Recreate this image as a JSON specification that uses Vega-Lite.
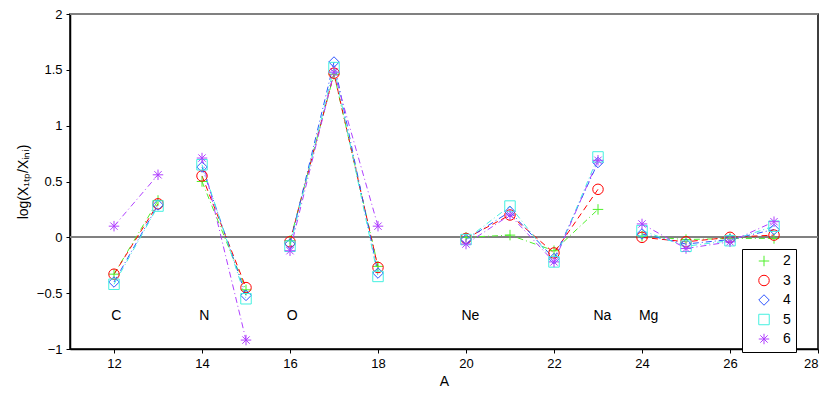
{
  "$schema": "https://vega.github.io/schema/vega-lite/v6.json",
  "width": 748,
  "height": 335,
  "autosize": "none",
  "padding": {"left": 70, "top": 14, "right": 12, "bottom": 44},
  "background": "white",
  "config": {
    "view": {"stroke": null},
    "font": "Liberation Sans",
    "axis": {
      "labelFont": "Liberation Sans", "labelFontSize": 13, "labelColor": "black",
      "titleFont": "Liberation Sans", "titleFontSize": 14, "titleFontWeight": "normal", "titleColor": "black",
      "domain": true, "ticks": true,
      "domainColor": "black", "domainWidth": 1.5, "tickColor": "black", "tickWidth": 1, "tickSize": 4, "labelPadding": 4, "grid": false
    },
    "legend": {
      "labelFont": "Liberation Sans", "labelFontSize": 14, "labelColor": "black"
    }
  },
  "datasets": {
    "main": [
      {"A": 12, "s": "2", "v": -0.33, "g": 1}, {"A": 13, "s": "2", "v": 0.33, "g": 1},
      {"A": 14, "s": "2", "v": 0.50, "g": 2}, {"A": 15, "s": "2", "v": -0.47, "g": 2},
      {"A": 16, "s": "2", "v": -0.03, "g": 3}, {"A": 17, "s": "2", "v": 1.46, "g": 3}, {"A": 18, "s": "2", "v": -0.26, "g": 3},
      {"A": 20, "s": "2", "v": 0.0, "g": 4}, {"A": 21, "s": "2", "v": 0.02, "g": 4}, {"A": 22, "s": "2", "v": -0.12, "g": 4}, {"A": 23, "s": "2", "v": 0.25, "g": 4},
      {"A": 24, "s": "2", "v": 0.01, "g": 5}, {"A": 25, "s": "2", "v": -0.02, "g": 5}, {"A": 26, "s": "2", "v": -0.01, "g": 5}, {"A": 27, "s": "2", "v": -0.01, "g": 5},

      {"A": 12, "s": "3", "v": -0.33, "g": 1}, {"A": 13, "s": "3", "v": 0.30, "g": 1},
      {"A": 14, "s": "3", "v": 0.55, "g": 2}, {"A": 15, "s": "3", "v": -0.45, "g": 2},
      {"A": 16, "s": "3", "v": -0.04, "g": 3}, {"A": 17, "s": "3", "v": 1.47, "g": 3}, {"A": 18, "s": "3", "v": -0.27, "g": 3},
      {"A": 20, "s": "3", "v": -0.01, "g": 4}, {"A": 21, "s": "3", "v": 0.20, "g": 4}, {"A": 22, "s": "3", "v": -0.14, "g": 4}, {"A": 23, "s": "3", "v": 0.43, "g": 4},
      {"A": 24, "s": "3", "v": 0.00, "g": 5}, {"A": 25, "s": "3", "v": -0.04, "g": 5}, {"A": 26, "s": "3", "v": 0.00, "g": 5}, {"A": 27, "s": "3", "v": 0.02, "g": 5},

      {"A": 12, "s": "4", "v": -0.40, "g": 1}, {"A": 13, "s": "4", "v": 0.29, "g": 1},
      {"A": 14, "s": "4", "v": 0.63, "g": 2}, {"A": 15, "s": "4", "v": -0.52, "g": 2},
      {"A": 16, "s": "4", "v": -0.06, "g": 3}, {"A": 17, "s": "4", "v": 1.57, "g": 3}, {"A": 18, "s": "4", "v": -0.32, "g": 3},
      {"A": 20, "s": "4", "v": -0.02, "g": 4}, {"A": 21, "s": "4", "v": 0.23, "g": 4}, {"A": 22, "s": "4", "v": -0.19, "g": 4}, {"A": 23, "s": "4", "v": 0.67, "g": 4},
      {"A": 24, "s": "4", "v": 0.03, "g": 5}, {"A": 25, "s": "4", "v": -0.06, "g": 5}, {"A": 26, "s": "4", "v": -0.02, "g": 5}, {"A": 27, "s": "4", "v": 0.07, "g": 5},

      {"A": 12, "s": "5", "v": -0.42, "g": 1}, {"A": 13, "s": "5", "v": 0.28, "g": 1},
      {"A": 14, "s": "5", "v": 0.65, "g": 2}, {"A": 15, "s": "5", "v": -0.55, "g": 2},
      {"A": 16, "s": "5", "v": -0.08, "g": 3}, {"A": 17, "s": "5", "v": 1.52, "g": 3}, {"A": 18, "s": "5", "v": -0.35, "g": 3},
      {"A": 20, "s": "5", "v": -0.02, "g": 4}, {"A": 21, "s": "5", "v": 0.28, "g": 4}, {"A": 22, "s": "5", "v": -0.22, "g": 4}, {"A": 23, "s": "5", "v": 0.72, "g": 4},
      {"A": 24, "s": "5", "v": 0.06, "g": 5}, {"A": 25, "s": "5", "v": -0.08, "g": 5}, {"A": 26, "s": "5", "v": -0.03, "g": 5}, {"A": 27, "s": "5", "v": 0.10, "g": 5},

      {"A": 12, "s": "6", "v": 0.10, "g": 1}, {"A": 13, "s": "6", "v": 0.56, "g": 1},
      {"A": 14, "s": "6", "v": 0.71, "g": 2}, {"A": 15, "s": "6", "v": -0.92, "g": 2},
      {"A": 16, "s": "6", "v": -0.12, "g": 3}, {"A": 17, "s": "6", "v": 1.48, "g": 3}, {"A": 18, "s": "6", "v": 0.10, "g": 3},
      {"A": 20, "s": "6", "v": -0.06, "g": 4}, {"A": 21, "s": "6", "v": 0.20, "g": 4}, {"A": 22, "s": "6", "v": -0.22, "g": 4}, {"A": 23, "s": "6", "v": 0.69, "g": 4},
      {"A": 24, "s": "6", "v": 0.12, "g": 5}, {"A": 25, "s": "6", "v": -0.10, "g": 5}, {"A": 26, "s": "6", "v": -0.04, "g": 5}, {"A": 27, "s": "6", "v": 0.14, "g": 5}
    ],
    "labels": [
      {"A": 12.05, "v": -0.7, "t": "C"},
      {"A": 14.05, "v": -0.7, "t": "N"},
      {"A": 16.05, "v": -0.7, "t": "O"},
      {"A": 20.1, "v": -0.7, "t": "Ne"},
      {"A": 23.1, "v": -0.7, "t": "Na"},
      {"A": 24.15, "v": -0.7, "t": "Mg"}
    ],
    "frame": [{"x0": 11, "x1": 28, "y0": -1, "y1": 2}]
  },
  "resolve": {"legend": {"color": "independent", "shape": "independent", "strokeDash": "independent"}},
  "layer": [
    {
      "data": {"name": "frame"},
      "mark": {"type": "rect", "filled": false, "stroke": "black", "strokeWidth": 1.5},
      "encoding": {
        "x": {"field": "x0", "type": "quantitative", "scale": {"domain": [11, 28], "nice": false, "zero": false},
          "title": "A", "axis": {"values": [12, 14, 16, 18, 20, 22, 24, 26, 28], "orient": "bottom", "titlePadding": 4}},
        "x2": {"field": "x1"},
        "y": {"field": "y0", "type": "quantitative", "scale": {"domain": [-1, 2], "nice": false},
          "title": "log(X₁ₜₚ/Xᵢₙᵢ)", "axis": {"values": [-1, -0.5, 0, 0.5, 1, 1.5, 2], "orient": "left", "format": "", "titlePadding": 6}},
        "y2": {"field": "y1"}
      }
    },
    {
      "data": {"name": "labels"},
      "mark": {"type": "rule", "color": "#808080", "strokeWidth": 1.5},
      "encoding": {"y": {"datum": 0, "type": "quantitative"}}
    },
    {
      "data": {"name": "labels"},
      "mark": {"type": "rule", "color": "#808080", "strokeWidth": 1.5},
      "encoding": {"y": {"datum": 2, "type": "quantitative"}}
    },
    {
      "data": {"name": "main"},
      "mark": {"type": "line", "strokeWidth": 1, "clip": true},
      "encoding": {
        "x": {"field": "A", "type": "quantitative"},
        "y": {"field": "v", "type": "quantitative"},
        "detail": {"field": "g"},
        "order": {"field": "A"},
        "color": {"field": "s", "type": "nominal", "legend": null,
          "scale": {"domain": ["2", "3", "4", "5", "6"], "range": ["#4ef02a", "#ff0000", "#2f55ff", "#44f0e0", "#b040ff"]}},
        "strokeDash": {"field": "s", "type": "nominal", "legend": null,
          "scale": {"domain": ["2", "3", "4", "5", "6"], "range": [[6, 3, 1, 3], [6, 4], [6, 3, 1, 3], [6, 3, 1, 3], [6, 3, 1, 3]]}}
      }
    },
    {
      "data": {"name": "main"},
      "mark": {"type": "point", "filled": false, "strokeWidth": 1, "size": 110, "opacity": 1},
      "encoding": {
        "x": {"field": "A", "type": "quantitative"},
        "y": {"field": "v", "type": "quantitative"},
        "color": {"field": "s", "type": "nominal",
          "legend": {"title": null, "orient": "none", "legendX": 672, "legendY": 235, "strokeColor": "black", "fillColor": "white",
            "padding": 5, "rowPadding": 3.5, "symbolSize": 110, "symbolStrokeWidth": 1, "symbolOffset": 10, "labelOffset": 12}},
        "shape": {"field": "s", "type": "nominal",
          "legend": {"title": null, "orient": "none", "legendX": 672, "legendY": 235, "strokeColor": "black", "fillColor": "white",
            "padding": 5, "rowPadding": 3.5, "symbolSize": 110, "symbolStrokeWidth": 1, "symbolOffset": 10, "labelOffset": 12},
          "scale": {"domain": ["2", "3", "4", "5", "6"], "range": [
            "M-1,0L1,0M0,-1L0,1",
            "circle",
            "diamond",
            "square",
            "M-1,0L1,0M0,-1L0,1M-0.7,-0.7L0.7,0.7M-0.7,0.7L0.7,-0.7"
          ]}}
      }
    },
    {
      "data": {"name": "labels"},
      "mark": {"type": "text", "fontSize": 14, "font": "Liberation Sans", "color": "black", "align": "center", "baseline": "middle"},
      "encoding": {
        "x": {"field": "A", "type": "quantitative"},
        "y": {"field": "v", "type": "quantitative"},
        "text": {"field": "t"}
      }
    }
  ]
}
